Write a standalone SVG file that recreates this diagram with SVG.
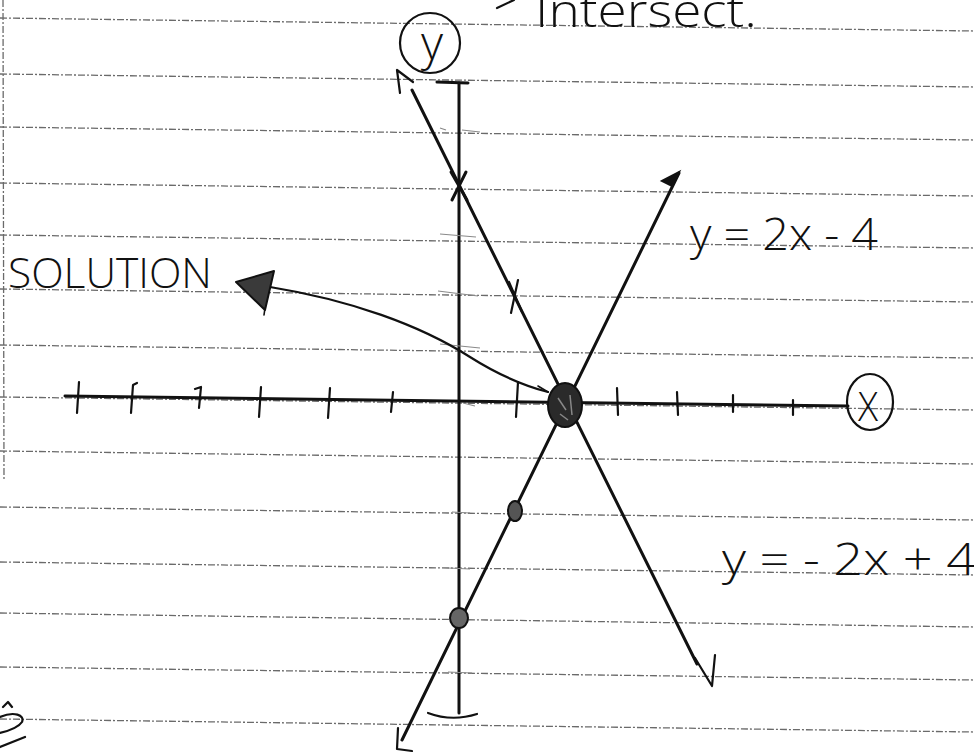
<svg xmlns="http://www.w3.org/2000/svg" width="974" height="753" viewBox="0 0 974 753">
<defs>
<style>
.rule{stroke:#6a6a6a;stroke-width:1.3;stroke-dasharray:7 2 2 2;fill:none}
.ink{stroke:#111;fill:none;stroke-linecap:round;stroke-linejoin:round}
.thick{stroke-width:3}
.med{stroke-width:2.2}
.thin{stroke-width:1.6}
.hand{font-family:"Open Sans","Liberation Sans",sans-serif;font-weight:300;fill:#111}
.faint{stroke:#8a8a8a;stroke-width:1.2;fill:none}
</style>
</defs>
<rect width="974" height="753" fill="#fff"/>
<g id="paper">
<line class="rule" x1="0" y1="18" x2="974" y2="31"/>
<line class="rule" x1="0" y1="74" x2="974" y2="87"/>
<line class="rule" x1="0" y1="127" x2="974" y2="140"/>
<line class="rule" x1="0" y1="183" x2="974" y2="196"/>
<line class="rule" x1="0" y1="235" x2="974" y2="248"/>
<line class="rule" x1="0" y1="289" x2="974" y2="302"/>
<line class="rule" x1="0" y1="345" x2="974" y2="358"/>
<line class="rule" x1="0" y1="397" x2="974" y2="410"/>
<line class="rule" x1="0" y1="451" x2="974" y2="464"/>
<line class="rule" x1="0" y1="507" x2="974" y2="520"/>
<line class="rule" x1="0" y1="562" x2="974" y2="575"/>
<line class="rule" x1="0" y1="613" x2="974" y2="627"/>
<line class="rule" x1="0" y1="667" x2="974" y2="680"/>
<line class="rule" x1="0" y1="719" x2="974" y2="732"/>
<line class="rule" x1="3" y1="0" x2="4" y2="480"/>
</g>
<g id="title">
<line class="ink med" x1="497" y1="8" x2="514" y2="0"/>
<text class="hand" x="535" y="27" font-size="46" textLength="222" lengthAdjust="spacingAndGlyphs">Intersect.</text>
</g>
<g id="y-axis">
<line class="ink thick" x1="437" y1="82" x2="468" y2="83"/>
<line class="ink thick" x1="459" y1="83" x2="459" y2="713"/>
<path class="ink med" d="M428 713 Q452 722 477 714"/>
<path class="faint" d="M440 128 L446 130 M462 130 L480 132 M440 234 L476 237 M438 291 L478 296 M440 344 L480 348 M463 403 L475 406 M452 512 L470 513 M448 568 L470 569 M448 672 L472 673"/>
</g>
<g id="y-label">
<ellipse class="ink med" cx="430" cy="43" rx="30" ry="30"/>
<text class="hand" x="432" y="60" font-size="48" text-anchor="middle">y</text>
</g>
<g id="x-axis">
<line class="ink thick" x1="65" y1="396" x2="848" y2="406"/>
<path class="ink med" d="M79 382 L77 413 M133 385 L131 413 M133 385 L137 383 M201 387 L199 408 M195 389 L201 387 M261 387 L259 417 M330 388 L328 418 M393 392 L391 412 M518 382 L516 417 M617 388 L618 415 M677 392 L678 415 M733 395 L733 412 M793 400 L793 415"/>
</g>
<g id="x-label">
<ellipse class="ink med" cx="870" cy="402" rx="23" ry="28"/>
<text class="hand" x="858" y="421" font-size="40" textLength="20" lengthAdjust="spacingAndGlyphs">X</text>
</g>
<g id="line-neg">
<path class="ink med" d="M397 70 L400 93 M397 70 L413 82"/>
<line class="ink thick" x1="412" y1="90" x2="697" y2="664"/>
<path class="ink med" d="M695 658 L712 686 L715 655"/>
<path class="ink thick" d="M451 172 L467 200 M466 172 L452 200"/>
<path class="ink med" d="M509 282 L522 312 M518 280 L511 313"/>
</g>
<g id="line-pos">
<line class="ink thick" x1="679" y1="173" x2="402" y2="740"/>
<path d="M662 181 L679 172 L672 186 Z" fill="#111" stroke="#111" stroke-width="2"/>
<path class="ink med" d="M398 728 L397 749 L412 751"/>
<ellipse cx="515" cy="511" rx="7" ry="10" fill="#555" stroke="#111" stroke-width="2"/>
<ellipse cx="459" cy="618" rx="9" ry="10" fill="#666" stroke="#111" stroke-width="2"/>
</g>
<g id="solution-point">
<ellipse cx="565" cy="405" rx="17" ry="22" fill="#2a2a2a" stroke="#111" stroke-width="2"/>
<path d="M558 398 L566 410 M570 395 L572 415 M560 414 L568 420" stroke="#888" stroke-width="1.5" fill="none"/>
</g>
<g id="solution-label">
<text class="hand" x="8" y="288" font-size="42" textLength="204" lengthAdjust="spacingAndGlyphs">SOLUTION</text>
</g>
<g id="connectors">
<path class="ink med" d="M270 287 C350 300 420 325 470 357 C500 376 525 386 548 392"/>
<path class="ink thin" d="M538 386 L548 392"/>
<path d="M236 282 L274 271 L265 310 Z" fill="#3a3a3a" stroke="#111" stroke-width="2" stroke-linejoin="round"/>
<line class="ink thin" x1="265" y1="308" x2="264" y2="315"/>
</g>
<g id="eq-pos">
<text class="hand" x="690" y="250" font-size="44" textLength="188" lengthAdjust="spacingAndGlyphs">y = 2x - 4</text>
</g>
<g id="eq-neg">
<text class="hand" x="722" y="575" font-size="44" textLength="254" lengthAdjust="spacingAndGlyphs">y = - 2x + 4</text>
</g>
<g id="margin-mark">
<path class="ink med" d="M3 707 L8 702 L12 707 M0 717 C14 711 25 715 22 722 C18 728 8 731 0 733 M0 747 L25 737"/>
</g>
</svg>
